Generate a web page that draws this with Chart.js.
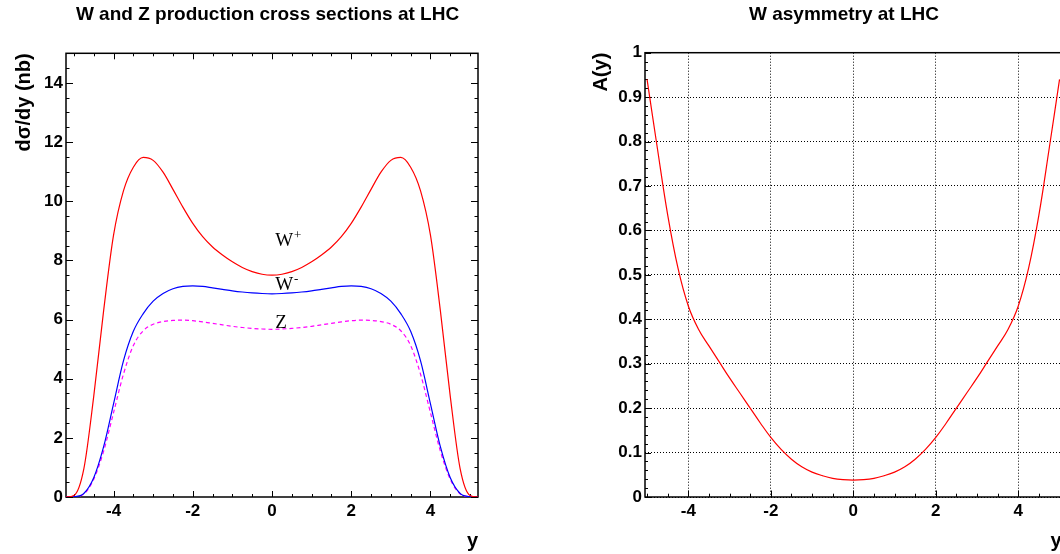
<!DOCTYPE html>
<html>
<head>
<meta charset="utf-8">
<script src="https://cdn.jsdelivr.net/npm/chart.js"></script>
<style>
  html, body { margin: 0; padding: 0; overflow: hidden; background: #fff; }
  body { width: 1060px; height: 554px; position: relative; }
  canvas { position: absolute; top: 0; }
</style>
</head>
<body>
<canvas id="cross" width="535" height="554" style="left:0"></canvas>
<canvas id="asym" width="628" height="554" style="left:530px"></canvas>
<script>
// rapidity points for the cross sections
const rapidity = [-5.2, -5, -4.75, -4.5, -4.25, -4, -3.75, -3.5, -3.25, -3, -2.75, -2.5, -2.25, -2, -1.75, -1.5, -1.25, -1, -0.75, -0.5, -0.25,
  0, 0.25, 0.5, 0.75, 1, 1.25, 1.5, 1.75, 2, 2.25, 2.5, 2.75, 3, 3.25, 3.5, 3.75, 4, 4.25, 4.5, 4.75, 5, 5.2];

// dsigma/dy in nb
const wPlus = [0, 0.05, 0.95, 3.4, 6.3, 8.85, 10.35, 11.15, 11.48, 11.38, 10.98, 10.4, 9.8, 9.25, 8.8, 8.45, 8.18, 7.95, 7.76, 7.62, 7.53,
  7.5, 7.53, 7.62, 7.76, 7.95, 8.18, 8.45, 8.8, 9.25, 9.8, 10.4, 10.98, 11.38, 11.48, 11.15, 10.35, 8.85, 6.3, 3.4, 0.95, 0.05, 0];
const wMinus = [0, 0.01, 0.12, 0.65, 1.7, 3.15, 4.6, 5.6, 6.2, 6.62, 6.88, 7.04, 7.12, 7.14, 7.12, 7.07, 7.02, 6.97, 6.93, 6.9, 6.88,
  6.87, 6.88, 6.9, 6.93, 6.97, 7.02, 7.07, 7.12, 7.14, 7.12, 7.04, 6.88, 6.62, 6.2, 5.6, 4.6, 3.15, 1.7, 0.65, 0.12, 0.01, 0];
const zBoson = [0, 0.01, 0.1, 0.6, 1.55, 2.85, 4.15, 5.12, 5.62, 5.84, 5.93, 5.97, 5.98, 5.96, 5.92, 5.87, 5.82, 5.77, 5.73, 5.7, 5.68,
  5.67, 5.68, 5.7, 5.73, 5.77, 5.82, 5.87, 5.92, 5.96, 5.98, 5.97, 5.93, 5.84, 5.62, 5.12, 4.15, 2.85, 1.55, 0.6, 0.1, 0.01, 0];

// W charge asymmetry
const asymRapidity = [-5, -4.75, -4.5, -4.25, -4, -3.75, -3.5, -3.25, -3, -2.75, -2.5, -2.25, -2, -1.75, -1.5, -1.25, -1, -0.75, -0.5, -0.25,
  0, 0.25, 0.5, 0.75, 1, 1.25, 1.5, 1.75, 2, 2.25, 2.5, 2.75, 3, 3.25, 3.5, 3.75, 4, 4.25, 4.5, 4.75, 5];
const asymmetry = [0.94, 0.785, 0.635, 0.515, 0.43, 0.377, 0.34, 0.304, 0.268, 0.234, 0.2, 0.166, 0.134, 0.107, 0.085, 0.068, 0.056, 0.048, 0.042, 0.039,
  0.038, 0.039, 0.042, 0.048, 0.056, 0.068, 0.085, 0.107, 0.134, 0.166, 0.2, 0.234, 0.268, 0.304, 0.34, 0.377, 0.43, 0.515, 0.635, 0.785, 0.94];

// tick labels
const xTicks = [-4, -2, 0, 2, 4];
const crossTicks = [0, 2, 4, 6, 8, 10, 12, 14];
const asymTicks = [0, 0.1, 0.2, 0.3, 0.4, 0.5, 0.6, 0.7, 0.8, 0.9, 1];

// curve names written on the plot
const curveNames = ['W', 'W', 'Z'];
const curveSups = ['+', '-', ''];
const curveNameY = [8.5, 7.0, 5.73];
const curveNameX = [0.08, 0.08, 0.08];

Chart.defaults.font.family = '"Liberation Sans", Arial, sans-serif';
Chart.defaults.color = '#000';

const toPoints = (xs, ys) => xs.map((x, i) => ({x: x, y: ys[i]}));
const useTicks = (vals) => (s) => { s.ticks = vals.map(v => ({value: v})); };

// ROOT style frame with inside tick marks
function frameTicks(sides, minorX, minorY, lenX, lenY) {
  return {
    id: 'frameTicks',
    beforeDatasetsDraw(chart) {
      const {ctx, chartArea: a, scales} = chart;
      const sx = scales.x, sy = scales.y;
      const isMajor = (s, v) => s.ticks.some(t => Math.abs(t.value - v) < 1e-6);
      ctx.save();
      ctx.strokeStyle = '#000';
      ctx.lineWidth = 1;
      ctx.beginPath();
      for (let k = Math.ceil(sx.min / minorX - 1e-6); k * minorX <= sx.max + 1e-6; k++) {
        const v = k * minorX, p = Math.round(sx.getPixelForValue(v)) + 0.5;
        const len = isMajor(sx, v) ? lenX[0] : lenX[1];
        if (sides.includes('bottom')) { ctx.moveTo(p, a.bottom); ctx.lineTo(p, a.bottom - len); }
        if (sides.includes('top')) { ctx.moveTo(p, a.top); ctx.lineTo(p, a.top + len); }
      }
      for (let k = Math.ceil(sy.min / minorY - 1e-6); k * minorY <= sy.max + 1e-6; k++) {
        const v = k * minorY, p = Math.round(sy.getPixelForValue(v)) + 0.5;
        const len = isMajor(sy, v) ? lenY[0] : lenY[1];
        if (sides.includes('left')) { ctx.moveTo(a.left, p); ctx.lineTo(a.left + len, p); }
        if (sides.includes('right')) { ctx.moveTo(a.right, p); ctx.lineTo(a.right - len, p); }
      }
      ctx.stroke();
      ctx.lineWidth = 1.5;
      ctx.strokeRect(a.left, a.top, a.right - a.left, a.bottom - a.top);
      ctx.restore();
    }
  };
}

const curveLabels = {
  id: 'curveLabels',
  afterDatasetsDraw(chart) {
    const {ctx, scales: {x, y}} = chart;
    ctx.save();
    ctx.fillStyle = '#000';
    ctx.textBaseline = 'alphabetic';
    curveNames.forEach((name, i) => {
      const px = x.getPixelForValue(curveNameX[i]);
      const py = y.getPixelForValue(curveNameY[i]);
      ctx.font = '19px "Liberation Serif", "Times New Roman", serif';
      ctx.fillText(name, px, py);
      const w = ctx.measureText(name).width;
      ctx.font = '13px "Liberation Serif", "Times New Roman", serif';
      ctx.fillText(curveSups[i], px + w + 1, py - 7);
    });
    ctx.restore();
  }
};

const titleFont = {size: 19, weight: 'bold'};
const tickFont = {size: 17, weight: 'bold'};
const axisFont = {size: 20, weight: 'bold'};
const line = {pointRadius: 0, borderWidth: 1.2, fill: false, cubicInterpolationMode: 'monotone'};

new Chart(document.getElementById('cross'), {
  type: 'line',
  data: {
    datasets: [
      Object.assign({label: 'W+', data: toPoints(rapidity, wPlus), borderColor: '#ff0000'}, line),
      Object.assign({label: 'W-', data: toPoints(rapidity, wMinus), borderColor: '#0000ff'}, line),
      Object.assign({label: 'Z', data: toPoints(rapidity, zBoson), borderColor: '#ff00ff', borderDash: [4, 3]}, line)
    ]
  },
  options: {
    responsive: false,
    animation: false,
    layout: {padding: 0},
    plugins: {
      legend: {display: false},
      tooltip: {enabled: false},
      title: {display: true, text: 'W and Z production cross sections at LHC', color: '#000', font: titleFont, padding: {top: 3, bottom: 27.5}}
    },
    scales: {
      x: {
        type: 'linear', min: -5.2, max: 5.2,
        afterBuildTicks: useTicks(xTicks),
        afterFit: s => { s.height = 57; },
        grid: {display: false, drawTicks: false},
        border: {display: false},
        ticks: {font: tickFont, padding: 4, maxRotation: 0},
        title: {display: true, text: 'y', align: 'end', font: axisFont, padding: {top: 0, bottom: 1}}
      },
      y: {
        min: 0, max: 15,
        afterBuildTicks: useTicks(crossTicks),
        afterFit: s => { s.width = 66; },
        grid: {display: false, drawTicks: false},
        border: {display: false},
        ticks: {font: tickFont, padding: 3},
        title: {display: true, text: 'dσ/dy (nb)', align: 'end', font: axisFont, padding: {top: 12, bottom: 0}}
      },
      yMirror: {
        position: 'right', min: 0, max: 15,
        afterFit: s => { s.width = 57; },
        grid: {display: false, drawTicks: false},
        border: {display: false},
        ticks: {display: false}
      }
    }
  },
  plugins: [frameTicks(['left', 'right', 'bottom', 'top'], 0.5, 0.5, [6, 3], [7, 3.5]), curveLabels]
});

new Chart(document.getElementById('asym'), {
  type: 'line',
  data: {
    datasets: [
      Object.assign({}, line, {label: 'A(y)', data: toPoints(asymRapidity, asymmetry), borderColor: '#ff0000',
        cubicInterpolationMode: 'default', tension: 0.4})
    ]
  },
  options: {
    responsive: false,
    animation: false,
    layout: {padding: 0},
    plugins: {
      legend: {display: false},
      tooltip: {enabled: false},
      title: {display: true, text: 'W asymmetry at LHC', color: '#000', font: titleFont, padding: {top: 3, bottom: 26.9}}
    },
    scales: {
      x: {
        type: 'linear', min: -5.05, max: 5.05,
        afterBuildTicks: useTicks(xTicks),
        afterFit: s => { s.height = 57; },
        grid: {display: true, drawTicks: false, color: '#000', lineWidth: 1},
        border: {display: false, dash: [1, 2]},
        ticks: {font: tickFont, padding: 4, maxRotation: 0},
        title: {display: true, text: 'y', align: 'end', font: axisFont, padding: {top: 0, bottom: 1}}
      },
      y: {
        min: 0, max: 1,
        afterBuildTicks: useTicks(asymTicks),
        afterFit: s => { s.width = 115; },
        grid: {display: true, drawTicks: false, color: '#000', lineWidth: 1},
        border: {display: false, dash: [1, 2]},
        ticks: {font: tickFont, padding: 3, callback: v => String(v)},
        title: {display: true, text: 'A(y)', align: 'end', font: axisFont, padding: {top: 59.7, bottom: 0}}
      },
      yMirror: {
        position: 'right', min: 0, max: 1,
        afterFit: s => { s.width = 96.4; },
        grid: {display: false, drawTicks: false},
        border: {display: false},
        ticks: {display: false}
      }
    }
  },
  plugins: [frameTicks(['left', 'bottom'], 0.5, 0.02, [6.5, 3.3], [6, 3])]
});
</script>
</body>
</html>
